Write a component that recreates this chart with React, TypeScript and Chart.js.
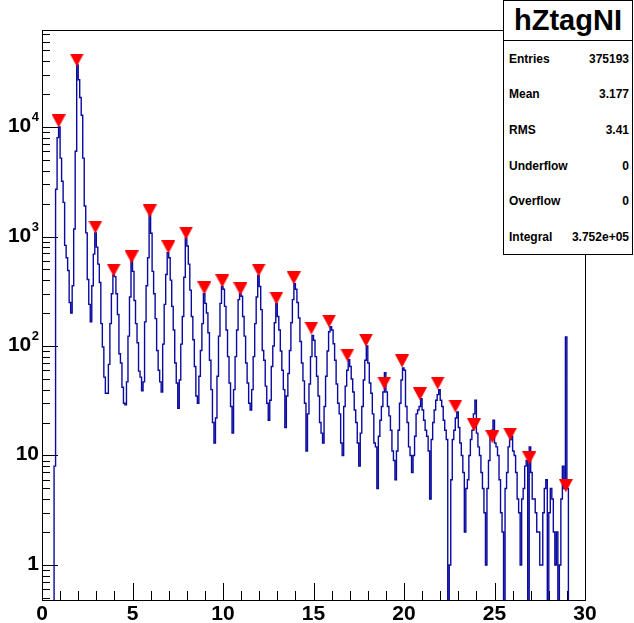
import React, { useEffect, useRef } from "react";
import { Chart, registerables } from "chart.js";

Chart.register(...registerables);

// Histogram definition: 360 bins from 0 to 30
const X_MIN = 0;
const X_MAX = 30;

// Bin contents, 12 bins per unit of x
const counts: number[] = [
  // 0 - 1
  0, 0, 0, 0, 0, 0, 0, 0, 8, 2700, 8000, 10000,
  // 1 - 2
  5200, 3200, 2050, 830, 640, 490, 250, 200, 355, 1170, 6000, 36800,
  // 2 - 3
  27000, 18600, 12800, 5200, 1900, 1080, 405, 240, 166, 355, 690, 1080,
  // 3 - 4
  800, 560, 380, 160, 98, 52, 37, 37, 68, 160, 300, 445,
  // 4 - 5
  430, 300, 194, 85, 70, 42, 30, 29, 47, 123, 280, 600,
  // 5 - 6
  480, 260, 160, 107, 59, 52, 39, 47, 166, 355, 640, 1570,
  // 6 - 7
  1070, 480, 300, 178, 91, 60, 47, 38, 104, 240, 450, 710,
  // 7 - 8
  640, 400, 230, 140, 70, 46, 27, 49, 104, 186, 425, 970,
  // 8 - 9
  820, 560, 324, 186, 114, 65, 35, 30, 53, 91, 160, 300,
  // 9 - 10
  245, 200, 132, 74, 40, 20, 13, 22, 53, 123, 245, 350,
  // 10 - 11
  330, 230, 140, 80, 46, 28, 16, 40, 80, 140, 265, 300,
  // 11 - 12
  285, 186, 123, 70, 46, 30, 26, 40, 80, 160, 280, 440,
  // 12 - 13
  350, 215, 91, 74, 43, 30, 21, 32, 65, 100, 163, 245,
  // 13 - 14
  186, 140, 90, 60, 40, 18, 35, 56, 91, 163, 265, 370,
  // 14 - 15
  330, 250, 180, 110, 70, 48, 30, 11, 24, 45, 80, 125,
  // 15 - 16
  113, 80, 53, 35, 20, 16, 13, 28, 53, 90, 135, 150,
  // 16 - 17
  140, 105, 74, 45, 30, 24, 13, 10, 28, 43, 60, 75,
  // 17 - 18
  65, 50, 38, 26, 20, 13, 8, 16, 28, 49, 74, 100,
  // 18 - 19
  70, 46, 37, 24, 13, 12, 5, 15, 21, 28, 38, 57,
  // 19 - 20
  38, 28, 23, 17, 11, 9, 6, 11, 17, 30, 49, 63,
  // 20 - 21
  60, 28, 20, 12, 10, 7, 10, 15, 24, 26, 28, 33,
  // 21 - 22
  26, 21, 17, 15, 11, 4, 14, 20, 26, 32, 36, 40,
  // 22 - 23
  32, 28, 21, 17, 14, 0, 1, 6, 14, 17, 22, 25,
  // 23 - 24
  18, 13, 10, 7, 2, 5, 6, 10, 14, 17, 24, 32,
  // 24 - 25
  16, 12, 10, 7, 5, 3, 1, 5, 9, 15, 17, 21,
  // 25 - 26
  13, 12, 10, 6, 3, 2, 0, 5, 7, 12, 14, 15,
  // 26 - 27
  11, 10, 7, 4, 3, 1, 4, 5, 8, 9, 0, 12,
  // 27 - 28
  7, 4, 4, 3, 2, 2, 1, 1, 3, 5, 6, 0,
  // 28 - 29
  3, 5, 4, 2, 1, 2, 0, 1, 4, 8, 5, 121,
  // 29 - 30
  5, 0, 0, 0, 0, 0, 0, 0, 0, 0, 0, 0,
];

// Peak markers (peak search result)
const peakX: number[] = [
  0.92, 1.92, 2.95, 3.96, 4.95, 5.95, 6.98, 7.96, 8.97, 9.96, 10.96, 11.97, 12.95, 13.91,
  14.88, 15.86, 16.87, 17.9, 18.91, 19.89, 20.88, 21.86, 22.84, 23.87, 24.88, 25.86, 26.92, 28.94,
];
const peakY: number[] = [
  11350, 40900, 1220, 494, 650, 1710, 802, 1076, 339, 393, 332, 494, 274, 418,
  146, 169, 82.7, 113, 45.9, 73, 36.5, 45.9, 28.3, 19, 14.8, 15.7, 9.5, 5.3,
];

// Axis labels
const xLabelValues: number[] = [0, 5, 10, 15, 20, 25, 30];
const xLabels: string[] = ["0", "5", "10", "15", "20", "25", "30"];
const yLabelExponents: number[] = [0, 1, 2, 3, 4];

const Y_MIN = 0.479;
const Y_MAX = 76900;

// Statistics box
const statsTitle = "hZtagNI";
const statNames: string[] = ["Entries", "Mean", "RMS", "Underflow", "Overflow", "Integral"];
const statValues: string[] = ["375193", "3.177", "3.41", "0", "0", "3.752e+05"];

const FONT = '"Liberation Sans", Arial, Helvetica, sans-serif';

const rootAxesPlugin = {
  id: "rootAxes",
  beforeDatasetsDraw(chart: any) {
    const { ctx, chartArea: a, scales } = chart;
    const x = scales.x;
    const y = scales.y;
    ctx.save();
    ctx.strokeStyle = "#000";
    ctx.lineWidth = 1;
    ctx.strokeRect(
      Math.round(a.left) + 0.5,
      Math.round(a.top) + 0.5,
      Math.round(a.right - a.left),
      Math.round(a.bottom - a.top)
    );
    ctx.beginPath();
    for (let v = X_MIN; v <= X_MAX; v++) {
      const px = Math.round(x.getPixelForValue(v)) + 0.5;
      const len = v % 5 === 0 ? 17 : 9;
      ctx.moveTo(px, a.bottom);
      ctx.lineTo(px, a.bottom - len);
    }
    for (let d = -1; d <= 5; d++) {
      for (let m = 1; m <= 9; m++) {
        const v = m * Math.pow(10, d);
        if (v < Y_MIN || v > Y_MAX) continue;
        const py = Math.round(y.getPixelForValue(v)) + 0.5;
        ctx.moveTo(a.left, py);
        ctx.lineTo(a.left + (m === 1 ? 16 : 8), py);
      }
    }
    ctx.stroke();

    ctx.fillStyle = "#000";
    const big = `bold 21px ${FONT}`;
    const small = `bold 13px ${FONT}`;
    ctx.font = big;
    ctx.textAlign = "center";
    ctx.textBaseline = "alphabetic";
    xLabelValues.forEach((v, i) => {
      ctx.fillText(xLabels[i], x.getPixelForValue(v), a.bottom + 20);
    });

    const rightEdge = 39;
    ctx.textAlign = "right";
    yLabelExponents.forEach((e) => {
      const py = y.getPixelForValue(Math.pow(10, e));
      if (e <= 1) {
        ctx.font = big;
        ctx.fillText(e === 0 ? "1" : "10", rightEdge, py + 5);
      } else {
        const sup = String(e);
        ctx.font = small;
        const sw = ctx.measureText(sup).width;
        ctx.fillText(sup, rightEdge, py - 6);
        ctx.font = big;
        ctx.fillText("10", rightEdge - sw - 0.5, py + 5);
      }
    });
    ctx.restore();
  },
};

function makeTriangle(): HTMLCanvasElement {
  const c = document.createElement("canvas");
  c.width = 14;
  c.height = 13;
  const g = c.getContext("2d")!;
  g.fillStyle = "#ff0000";
  g.beginPath();
  g.moveTo(0, 0);
  g.lineTo(14, 0);
  g.lineTo(7, 13);
  g.closePath();
  g.fill();
  return c;
}

export default function App() {
  const canvasRef = useRef<HTMLCanvasElement | null>(null);

  useEffect(() => {
    if (!canvasRef.current) return;
    const width = (X_MAX - X_MIN) / counts.length;
    const histPoints = counts.map((c, i) => ({ x: X_MIN + i * width, y: c > 0 ? c : 0.01 }));
    const last = counts[counts.length - 1];
    histPoints.push({ x: X_MAX, y: last > 0 ? last : 0.01 });
    const markerPoints = peakX.map((px, i) => ({ x: px, y: peakY[i] }));
    const tri = makeTriangle();

    const chart = new Chart(canvasRef.current, {
      type: "line",
      data: {
        datasets: [
          {
            type: "scatter",
            data: markerPoints,
            pointStyle: tri as any,
            pointRadius: 7,
            showLine: false,
            order: 0,
            clip: false as any,
          } as any,
          {
            type: "line",
            data: histPoints,
            stepped: true,
            borderColor: "#0a0aa0",
            borderWidth: 1.4,
            pointRadius: 0,
            fill: false,
            tension: 0,
            order: 1,
          } as any,
        ],
      },
      options: {
        responsive: false,
        animation: false,
        events: [],
        layout: { padding: { left: 42, top: 30, right: 49, bottom: 23 } },
        scales: {
          x: { type: "linear", min: X_MIN, max: X_MAX, display: false },
          y: { type: "logarithmic", min: Y_MIN, max: Y_MAX, display: false },
        },
        plugins: {
          legend: { display: false },
          tooltip: { enabled: false },
        },
      },
      plugins: [rootAxesPlugin],
    });
    return () => chart.destroy();
  }, []);

  const rowH = 214 / statNames.length;

  return (
    <div
      style={{
        position: "fixed",
        left: 0,
        top: 0,
        width: 634,
        height: 623,
        background: "#fff",
        overflow: "hidden",
      }}
    >
      <canvas ref={canvasRef} width={634} height={623} style={{ display: "block" }} />
      <div
        style={{
          position: "absolute",
          left: 503,
          top: 0,
          width: 130,
          height: 41,
          border: "1px solid #000",
          boxSizing: "border-box",
          background: "#fff",
          display: "flex",
          alignItems: "center",
          justifyContent: "center",
          font: `bold 29px ${FONT}`,
          color: "#000",
        }}
      >
        {statsTitle}
      </div>
      <div
        style={{
          position: "absolute",
          left: 503,
          top: 40,
          width: 130,
          height: 215,
          border: "1px solid #000",
          boxSizing: "border-box",
          background: "#fff",
          font: `bold 12px ${FONT}`,
          color: "#000",
        }}
      >
        {statNames.map((n, i) => (
          <div
            key={n}
            style={{
              height: rowH,
              display: "flex",
              alignItems: "center",
              justifyContent: "space-between",
              padding: "0 3px 0 5px",
            }}
          >
            <span>{n}</span>
            <span>{statValues[i]}</span>
          </div>
        ))}
      </div>
    </div>
  );
}
